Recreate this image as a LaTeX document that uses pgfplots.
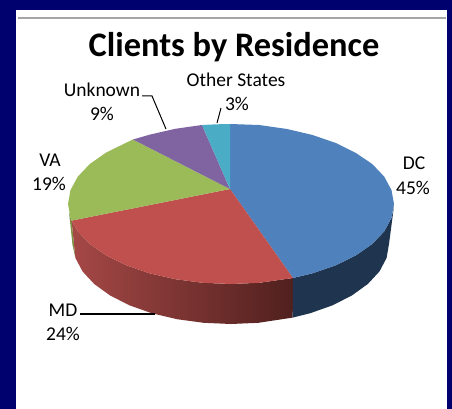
\documentclass[border=0pt]{standalone}
\usepackage{pgfplots}
\pgfplotsset{compat=1.18}
\usepackage{fontspec}
\setmainfont{Carlito}
\definecolor{navy}{RGB}{0,0,110}
\definecolor{pblue}{RGB}{79,129,189}
\definecolor{pred}{RGB}{192,80,77}
\definecolor{pgreen}{RGB}{155,187,89}
\definecolor{ppurple}{RGB}{128,100,162}
\definecolor{pcyan}{RGB}{75,172,198}
\definecolor{sblue}{RGB}{31,52,78}
\definecolor{sgreen}{RGB}{122,150,68}
\definecolor{sredL}{RGB}{165,72,70}
\definecolor{sredR}{RGB}{80,32,30}
\tikzset{lbl/.style={font=\fontsize{19.5}{22}\selectfont,text=black,inner sep=0pt,anchor=center}}
\begin{document}
\begin{tikzpicture}
\begin{axis}[
  width=452pt,height=409pt,scale only axis,hide axis,
  xmin=0,xmax=452,ymin=0,ymax=409,y dir=reverse,
  clip=true,
]
% page background and panel
\addplot[draw=none,fill=navy] coordinates {(0,0)(452,0)(452,409)(0,409)} --cycle;
\addplot[draw=none,fill=white] coordinates {(16,10)(447,10)(447,409)(16,409)} --cycle;
\addplot[draw={rgb,255:red,165;green,165;blue,165},line width=1.2pt] coordinates {(18,18)(446,18)};
% sides
\addplot[draw=none,fill=sgreen] coordinates {(69,212)(71.6,220.6)(75.4,257.9)(72.5,245)} --cycle;
\addplot[draw=none,left color=sredL,right color=sredR] coordinates {
 (71.6,220.6)(77.8,231.4)(89.8,244)(106.1,255.4)(126.2,265.3)(149.5,273.3)(175.3,279.2)(202.7,282.8)(231,284)(259.3,282.8)(293,278)
 (292.7,317.6)(258.4,322.8)(231,324)(203.6,322.8)(177,319.2)(152,313.3)(129.4,305.3)(110,295.4)(94.2,284)(82.5,271.4)(75.4,257.9)} --cycle;
\addplot[draw=none,fill=sblue] coordinates {
 (293,278)(312.5,273.3)(335.8,265.3)(355.9,255.4)(372.2,244)(384.2,231.4)(391.5,217.9)(394,206)
 (389,244)(386.6,257.9)(379.5,271.4)(367.8,284)(352,295.4)(332.6,305.3)(310,313.3)(292.7,317.6)} --cycle;
% top faces
\addplot[draw=none,fill=pblue] coordinates {
 (230,189)(230,124)(259,125)(287,129)(312.5,135)(335.8,143)(355.9,153)(372.2,164)(384.2,176.6)(391.5,190.1)(394,204)
 (391.5,217.9)(384.2,231.4)(372.2,244)(355.9,255.4)(335.8,265.3)(312.5,273.3)(293,278)} --cycle;
\addplot[draw=none,fill=pred] coordinates {
 (230,189)(293,278)(259.3,282.8)(231,284)(202.7,282.8)(175.3,279.2)(149.5,273.3)(126.2,265.3)(106.1,255.4)(89.8,244)(77.8,231.4)(71.6,220.6)} --cycle;
\addplot[draw=none,fill=pgreen] coordinates {
 (230,189)(71.6,220.6)(70.5,217.9)(68,204)(70.5,190.1)(77.8,176.6)(89.8,164)(106.1,152.6)(126.2,142.7)(133,139.5)} --cycle;
\addplot[draw=none,fill=ppurple] coordinates {
 (230,189)(133,139.5)(149.5,134.7)(175.3,128.8)(202,125)} --cycle;
\addplot[draw=none,fill=pcyan] coordinates {
 (230,189)(202,125)(216.8,124.3)(230,124)} --cycle;
% leader lines
\addplot[black,line width=1pt] coordinates {(142,96)(152,96)(166,129)};
\addplot[black,line width=1pt] coordinates {(221,108)(217,123)};
\addplot[black,line width=2pt] coordinates {(80,313.5)(155,313.5)};
% text
\node[font=\fontsize{34.4}{40}\selectfont\bfseries,text=black,inner sep=0pt] at (axis cs:234,47.5) {Clients by Residence};
\node[lbl] at (axis cs:414,163) {DC};
\node[lbl] at (axis cs:413,188) {45\%};
\node[lbl] at (axis cs:50,160) {VA};
\node[lbl] at (axis cs:49,184) {19\%};
\node[lbl] at (axis cs:102,90) {Unknown};
\node[lbl] at (axis cs:102,114) {9\%};
\node[lbl] at (axis cs:236,80) {Other States};
\node[lbl] at (axis cs:237,104) {3\%};
\node[lbl] at (axis cs:63,310) {MD};
\node[lbl] at (axis cs:63,334) {24\%};
\end{axis}
\end{tikzpicture}
\end{document}
